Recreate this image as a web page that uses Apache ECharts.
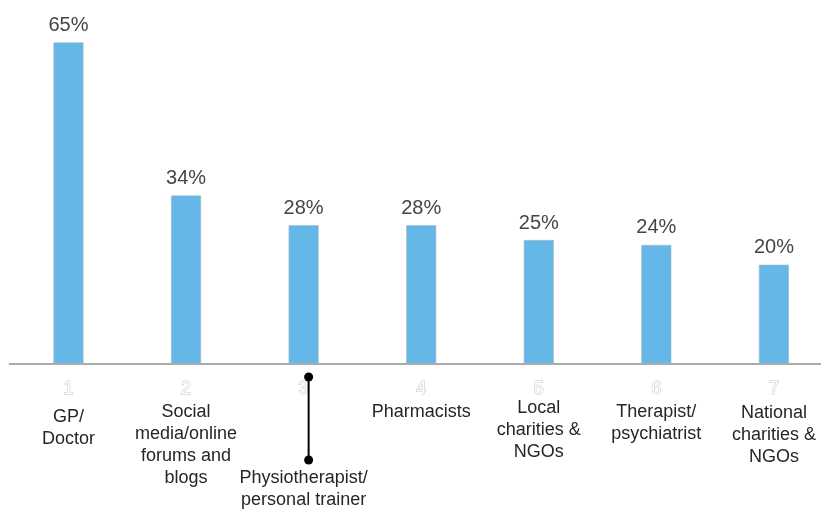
<!DOCTYPE html>
<html>
<head>
<meta charset="utf-8">
<script src="https://cdn.jsdelivr.net/npm/echarts@6/dist/echarts.min.js"></script>
<style>html,body{margin:0;padding:0;background:#fff}#c{width:821px;height:509px}</style>
</head>
<body>
<div id="c"></div>
<script>
var numbers = ['1', '2', '3', '4', '5', '6', '7'];
var categories = [
  'GP/\nDoctor',
  'Social\nmedia/online\nforums and\nblogs',
  'Physiotherapist/\npersonal trainer',
  'Pharmacists',
  'Local\ncharities &\nNGOs',
  'Therapist/\npsychiatrist',
  'National\ncharities &\nNGOs'
];
var values = [65, 34, 28, 28, 25, 24, 20];

var spacer = [12, 7, 73, 7, 3, 7, 8];
var FONT = '"Liberation Sans", Arial, sans-serif';

var rich = {c: {fontSize: 18, lineHeight: 22, color: '#262626', fontFamily: FONT}};
spacer.forEach(function (h, i) { rich['s' + i] = {fontSize: 1, lineHeight: h}; });

var chart = echarts.init(document.getElementById('c'), null, {renderer: 'canvas'});
chart.setOption({
  animation: false,
  backgroundColor: '#fff',
  grid: {left: 9.7, width: 823, top: 17.7, bottom: 145.5, containLabel: false, outerBoundsMode: 'none'},
  xAxis: [{
    type: 'category',
    data: numbers,
    axisLine: {lineStyle: {color: '#aaaaaa', width: 2}},
    axisTick: {show: false},
    axisLabel: {
      margin: 14, fontSize: 18, lineHeight: 24, color: '#ffffff',
      textBorderColor: '#c4c4c4', textBorderWidth: 1, fontFamily: FONT, interval: 0
    }
  }, {
    type: 'category',
    data: categories,
    position: 'bottom',
    axisLine: {show: false},
    axisTick: {show: false},
    axisLabel: {
      margin: 31, interval: 0, rich: rich,
      formatter: function (v, i) {
        return '{s' + i + '| }\n' + v.split('\n').map(function (l) { return '{c|' + l + '}'; }).join('\n');
      }
    }
  }],
  yAxis: {type: 'value', min: 0, max: 70, show: false, splitLine: {show: false}},
  series: [{
    type: 'bar',
    data: values,
    barWidth: 30,
    itemStyle: {color: '#65b7e7', borderColor: '#a9b9c4', borderWidth: 0.6},
    label: {
      show: true, position: 'top', distance: 7, formatter: '{c}%',
      fontSize: 20, color: '#454545', fontFamily: FONT
    }
  }]
});

var x3 = chart.convertToPixel({xAxisIndex: 0}, numbers[2]) + 5;
chart.setOption({
  graphic: [
    {type: 'line', shape: {x1: x3, y1: 377, x2: x3, y2: 460}, style: {stroke: '#000', lineWidth: 2}, z: 10},
    {type: 'circle', shape: {cx: x3, cy: 377, r: 4.5}, style: {fill: '#000'}, z: 10},
    {type: 'circle', shape: {cx: x3, cy: 460, r: 4.5}, style: {fill: '#000'}, z: 10}
  ]
});
</script>
</body>
</html>
